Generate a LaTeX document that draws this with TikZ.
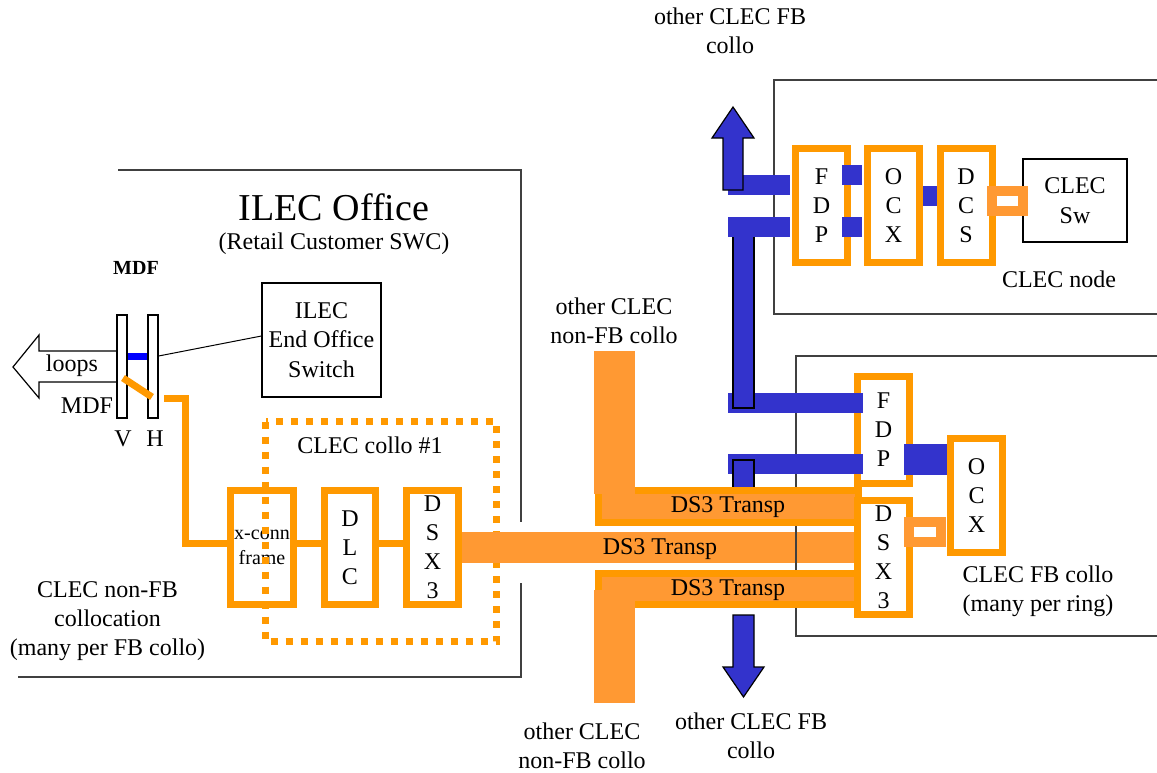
\documentclass[tikz,border=0pt]{standalone}
\usepackage{fontspec}
\setmainfont{Liberation Serif}
\definecolor{orng}{HTML}{FF9900}
\definecolor{lorng}{HTML}{FF9933}
\definecolor{bblue}{HTML}{3333CC}
\newcommand{\fsz}[2]{\fontsize{#1}{#2}\selectfont}
\begin{document}
\begin{tikzpicture}[x=1pt,y=-1pt,
  lbl/.style={font=\fsz{24}{29}, align=center, inner sep=0},
  obox/.style={draw=orng, line width=7pt, fill=white, inner sep=0, minimum width=52pt, minimum height=114pt, align=center, font=\fsz{24}{29}},
  frameline/.style={draw=black!75, line width=1.3pt},
  thinbox/.style={draw=black, line width=1.2pt, fill=white, inner sep=0, align=center},
  bbar/.style={fill=bblue},
  bbaro/.style={fill=bblue, draw=black, line width=1.2pt},
  bando/.style={fill=lorng, draw=orng, line width=7pt},
  wire/.style={draw=orng, line width=7pt},
  linkbox/.style={draw=lorng, line width=10pt, fill=white},
]
\useasboundingbox (0,0) rectangle (1157,772);

% frames
\draw[frameline] (118,170) -- (521,170) -- (521,522);
\draw[frameline] (521,583) -- (521,677) -- (18,677);
\draw[frameline] (1157,80) -- (774,80) -- (774,314) -- (1157,314);

% titles
\node[lbl, font=\fsz{38}{44}] (ilec) at (334,207) {ILEC Office};
\node[lbl] (retail) at (334,244) {(Retail Customer SWC)};
\node[lbl, font=\fsz{20}{24}\bfseries] (mdft) at (136,268) {MDF};
\node[lbl] (otop) at (730,31) {other CLEC FB\\collo};
\node[lbl] (onfbt) at (614,321) {other CLEC\\non-FB collo};
\node[lbl] (cnode) at (1059,279) {CLEC node};
\node[lbl] (collo1) at (370,445) {CLEC collo \#1};
\node[lbl] (nonfb) at (107.5,621) {CLEC non-FB\\collocation\\(many per FB collo)};
\node[lbl] (onfbb) at (582,746) {other CLEC\\non-FB collo};
\node[lbl] (ofbb) at (751,736) {other CLEC FB\\collo};
\node[lbl] (fbcollo) at (1038,591) {CLEC FB collo\\(many per ring)};

% ILEC switch
\node[thinbox, minimum width=119pt, minimum height=114pt, font=\fsz{24}{29.5}] (sw) at (321.5,340) {ILEC\\End Office\\Switch};

% loops arrow
\draw[black, line width=1.2pt, fill=white] (117,351) -- (39,351) -- (39,335) -- (13,367) -- (39,398) -- (39,382) -- (117,382);
\node[lbl] (loops) at (72,366) {loops};
\node[lbl] (mdfl) at (87,406) {MDF};

% MDF bars
\node[thinbox, minimum width=10pt, minimum height=103pt] (vbar) at (122,366.5) {};
\node[thinbox, minimum width=10pt, minimum height=103pt] (hbar) at (153,366.5) {};
\node[lbl] (vl) at (123,439) {V};
\node[lbl] (hl) at (155,439) {H};
\draw[blue, line width=7pt] ([yshift=10.5pt]vbar.east) -- ([yshift=10.5pt]hbar.west);
\draw[black, line width=1pt] ([yshift=10.5pt]hbar.east) -- ([yshift=4pt]sw.west);
\draw[wire] (123,378) -- (152,397);

% CLEC collo #1
\node[obox, minimum width=63pt, font=\fsz{20}{25}] (xc) at (262,547.5) {x-conn\\frame};
\node[obox, minimum width=51pt] (dlc) at (350,547.5) {D\\L\\C};
\node[obox] (dsxl) at (432.5,547.5) {D\\S\\X\\3};
\draw[wire] ([yshift=4pt]xc.east) -- ([yshift=4pt]dlc.west);
\draw[wire] ([yshift=4pt]dlc.east) -- ([yshift=4pt]dsxl.west);
\draw[wire, line join=miter] (164,398) -- (185,398) -- (185,543.5) -- ([yshift=4pt]xc.west);
\draw[orng, line width=7pt, dash pattern=on 7pt off 8pt] (265.5,421.5) rectangle (496.5,641.5);

% middle band
\fill[lorng] (dsxl.east |- 0,532) rectangle (856,563);
\node[lbl] (ds3m) at (660,549) {DS3 Transp};

% FB collo frame
\draw[frameline] (1157,356) -- (796,356) -- (796,636) -- (1157,636);

% top right node
\node[obox] (fdp1) at (821.5,205.5) {F\\D\\P};
\node[obox] (ocx1) at (893.5,205.5) {O\\C\\X};
\node[obox] (dcs1) at (966,205.5) {D\\C\\S};
\node[thinbox, minimum width=104pt, minimum height=83pt, font=\fsz{24}{30}] (csw) at (1075,200.5) {CLEC\\Sw};
\fill[bblue] (842,165) rectangle (862,185);
\fill[bblue] (842,217) rectangle (862,237);
\fill[bblue] (ocx1.east |- 0,186) rectangle (dcs1.west |- 0,206);
\draw[linkbox] (992,191) rectangle (1023,211);

% lower right FDP
\node[obox, minimum height=107pt] (fdp2) at (883.5,430) {F\\D\\P};

% blue ring
\fill[bblue] (728,393) rectangle (863,413);
\fill[bblue] (728,454) rectangle (863,474);
\draw[bbaro] (733,230) rectangle (754,408);
\fill[bblue] (728,175) rectangle (790,195);
\fill[bblue] (728,217) rectangle (790,237);
\draw[bbaro] (723,190) -- (723,138) -- (712,138) -- (733,107) -- (754,138) -- (743,138) -- (743,190) -- cycle;
\draw[bbaro] (733,460) rectangle (754,500);
\draw[bbaro] (733,615) -- (733,667) -- (723,667) -- (743.5,697) -- (764,667) -- (754,667) -- (754,615) -- cycle;

% upper / lower bands
\draw[bando] (598.5,490.5) rectangle (858,522.5);
\fill[lorng] (594,351) rectangle (635,494);
\draw[bando] (598.5,573.5) rectangle (858,604.5);
\fill[lorng] (594,590) rectangle (635,703);
\node[lbl] (ds3u) at (728,507) {DS3 Transp};
\node[lbl] (ds3l) at (728,590) {DS3 Transp};

% FB collo boxes
\node[obox] (dsxr) at (883.5,557.5) {D\\S\\X\\3};
\node[obox] (ocx2) at (976.5,495.5) {O\\C\\X};
\fill[bblue] (904,444) rectangle (ocx2.west |- 0,475);
\draw[linkbox] (909,522) rectangle (941,542);
\end{tikzpicture}
\end{document}
